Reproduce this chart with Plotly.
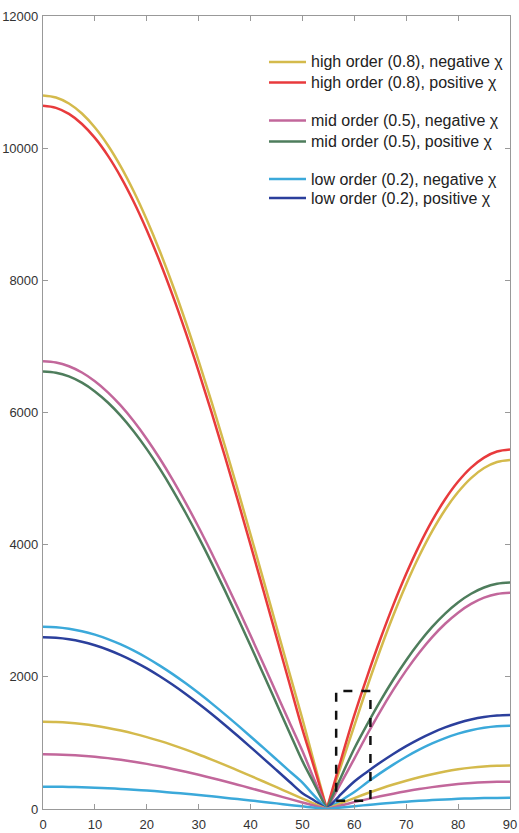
import plotly.graph_objects as go

angles = [0, 2.5, 5, 7.5, 10, 12.5, 15, 17.5, 20, 22.5, 25, 27.5, 30, 32.5, 35, 37.5, 40, 42.5, 45, 47.5,
          50, 52, 54.7, 57, 60, 62.5, 65, 67.5, 70, 72.5, 75, 77.5, 80, 82.5, 85, 87.5, 90]

high_neg = [10798, 10767, 10676, 10524, 10313, 10045, 9721, 9344, 8916, 8443, 7926, 7370, 6778, 6156, 5508, 4839, 4154, 3459, 2758, 2057,
            1362, 774, 0, 551, 1262, 1854, 2410, 2927, 3401, 3828, 4205, 4529, 4797, 5008, 5160, 5251, 5282]
high_pos = [10640, 10609, 10518, 10366, 10155, 9887, 9563, 9186, 8758, 8285, 7768, 7212, 6620, 5998, 5350, 4681, 3996, 3301, 2600, 1899,
            1204, 695, 0, 630, 1420, 2012, 2568, 3085, 3559, 3986, 4363, 4687, 4955, 5166, 5318, 5409, 5440]
mid_neg = [6776, 6757, 6700, 6605, 6473, 6305, 6103, 5867, 5600, 5304, 4981, 4633, 4264, 3875, 3470, 3052, 2624, 2189, 1751, 1313,
           878, 497, 0, 331, 762, 1131, 1479, 1802, 2098, 2365, 2601, 2803, 2971, 3103, 3198, 3255, 3274]
mid_pos = [6622, 6603, 6546, 6451, 6319, 6151, 5949, 5713, 5446, 5150, 4827, 4479, 4110, 3721, 3316, 2898, 2470, 2035, 1597, 1159,
           724, 420, 0, 408, 916, 1285, 1633, 1956, 2252, 2519, 2755, 2957, 3125, 3257, 3352, 3409, 3428]
low_neg = [2759, 2751, 2728, 2691, 2638, 2571, 2490, 2396, 2289, 2170, 2041, 1902, 1754, 1598, 1436, 1269, 1098, 924, 749, 574,
           400, 224, 0, 108, 256, 404, 543, 672, 791, 898, 992, 1073, 1140, 1193, 1230, 1253, 1261]
low_pos = [2598, 2590, 2568, 2530, 2477, 2410, 2329, 2235, 2128, 2009, 1880, 1741, 1593, 1438, 1276, 1108, 937, 763, 588, 413,
           239, 143, 0, 189, 417, 565, 704, 833, 952, 1059, 1153, 1234, 1301, 1354, 1392, 1414, 1422]
extra_yellow = [1320, 1316, 1305, 1286, 1260, 1227, 1187, 1141, 1088, 1030, 966, 898, 825, 748, 669, 586, 502, 416, 330, 244,
                158, 90, 0, 73, 165, 238, 306, 370, 428, 481, 527, 567, 600, 626, 645, 656, 660]
extra_pink = [828, 826, 819, 807, 791, 770, 745, 716, 683, 646, 606, 563, 518, 469, 419, 368, 315, 261, 207, 153,
              99, 57, 0, 46, 104, 149, 192, 232, 269, 302, 331, 356, 377, 393, 405, 412, 414]
extra_blue = [338, 337, 334, 329, 323, 314, 304, 292, 279, 264, 247, 230, 211, 192, 171, 150, 129, 107, 85, 62,
              40, 23, 0, 19, 42, 61, 78, 95, 110, 123, 135, 145, 154, 160, 165, 168, 169]

box_x = [56.5, 63.1]
box_y = [125, 1785]

x_ticks = [0, 10, 20, 30, 40, 50, 60, 70, 80, 90]
y_ticks = [0, 2000, 4000, 6000, 8000, 10000, 12000]

YELLOW = "#D4BA4C"
RED = "#E83A3C"
PINK = "#C2679B"
GREEN = "#4E7D5C"
LBLUE = "#3BA9DA"
DBLUE = "#2B3F9C"

# name, values, colour, legend row (pixel y of the legend entry, None = no entry)
series = [
    ("high order (0.8), negative χ", high_neg, YELLOW, 62),
    ("high order (0.8), positive χ", high_pos, RED, 82.5),
    ("mid order (0.5), negative χ", mid_neg, PINK, 120.5),
    ("mid order (0.5), positive χ", mid_pos, GREEN, 141.5),
    ("low order (0.2), negative χ", low_neg, LBLUE, 179),
    ("low order (0.2), positive χ", low_pos, DBLUE, 198),
    ("", extra_yellow, YELLOW, None),
    ("", extra_pink, PINK, None),
    ("", extra_blue, LBLUE, None),
]

W, H = 519, 833
ML, MR, MT, MB = 43, 9, 16, 24
PW, PH = W - ML - MR, H - MT - MB


def px(xp):
    return (xp - ML) / PW


def py(yp):
    return (H - MB - yp) / PH


vi = angles.index(54.7)
fig = go.Figure()
for name, vals, col, row in series:
    assert len(vals) == len(angles)
    # two smooth branches meeting in a sharp V at the magic angle
    for sl in (slice(0, vi + 1), slice(vi, None)):
        fig.add_trace(go.Scatter(x=angles[sl], y=vals[sl], mode="lines", name=name,
                                 line=dict(color=col, width=2.5, shape="spline", smoothing=1.0),
                                 showlegend=False, hoverinfo="skip"))

fig.add_shape(type="rect", x0=box_x[0], x1=box_x[1], y0=box_y[0], y1=box_y[1],
              xref="x", yref="y", line=dict(color="#111111", width=2.5, dash="dash"))

# legend (drawn by hand to reproduce the grouped spacing)
for name, vals, col, row in series:
    if row is None:
        continue
    fig.add_shape(type="line", xref="paper", yref="paper",
                  x0=px(269), x1=px(306), y0=py(row), y1=py(row),
                  line=dict(color=col, width=2.5))
    fig.add_annotation(x=px(309), y=py(row), xref="paper", yref="paper", text=name,
                       showarrow=False, xanchor="left", yanchor="middle",
                       font=dict(family="Liberation Sans", size=16, color="#222222"))

axis_common = dict(showgrid=False, zeroline=False, showline=True, linecolor="#999999",
                   linewidth=1.2, mirror="ticks", ticks="inside", ticklen=5, automargin=False,
                   tickcolor="#999999", tickfont=dict(family="Liberation Sans", size=13, color="#333333"))

fig.update_xaxes(range=[0, 90], tickvals=x_ticks, tickformat="d",
                 ticklabelstandoff=3, **axis_common)
fig.update_yaxes(range=[0, 12000], tickvals=y_ticks, tickformat="d",
                 ticklabelstandoff=1, **axis_common)

fig.update_layout(
    width=W, height=H,
    margin=dict(l=ML, r=MR, t=MT, b=MB),
    paper_bgcolor="white", plot_bgcolor="white",
    font=dict(family="Liberation Sans", size=16, color="#222222"),
    showlegend=False,
)

fig.write_html("out.html")
